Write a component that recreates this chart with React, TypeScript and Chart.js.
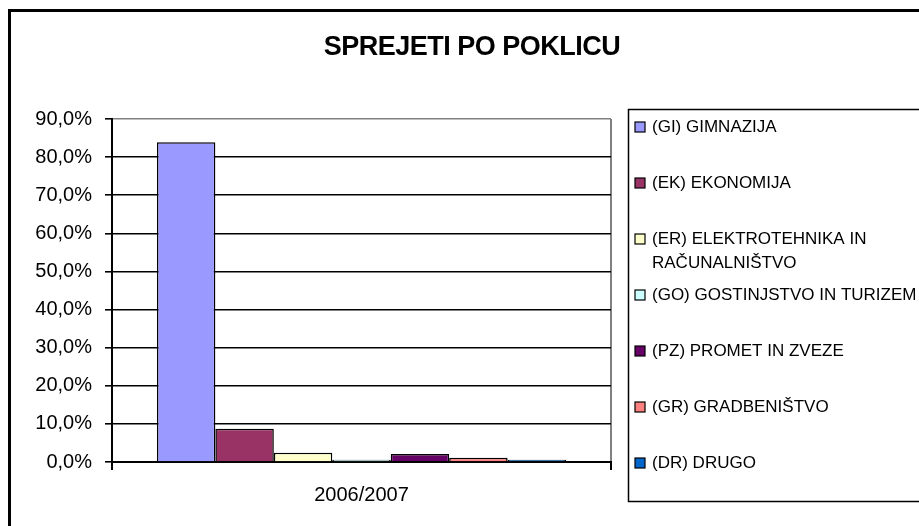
import React, { useEffect, useRef } from "react";
import { Chart, registerables } from "chart.js";

Chart.register(...registerables);

const CATEGORIES = ["2006/2007"];
const SERIES_LABELS = [
  "(GI) GIMNAZIJA",
  "(EK) EKONOMIJA",
  "(ER) ELEKTROTEHNIKA IN\nRAČUNALNIŠTVO",
  "(GO) GOSTINJSTVO IN TURIZEM",
  "(PZ) PROMET IN ZVEZE",
  "(GR) GRADBENIŠTVO",
  "(DR) DRUGO",
];
const SERIES_VALUES = [83.9, 8.7, 2.4, 0.6, 2.1, 1.1, 0.6];
const SERIES_COLORS = ["#9999FF", "#993366", "#FFFFCC", "#CCFFFF", "#660066", "#FF8080", "#0066CC"];
const TITLE = "SPREJETI PO POKLICU";
const Y_MIN = 0;
const Y_MAX = 90;
const Y_STEP = 10;

const FONT = "'Liberation Sans', Arial, sans-serif";

const decorPlugin = {
  id: "decor",
  beforeDraw(chart: any) {
    const ctx = chart.ctx;
    const W = chart.width;
    const H = chart.height;
    ctx.save();
    ctx.fillStyle = "#fff";
    ctx.fillRect(0, 0, W, H);
    // outer frame (left and top visible)
    ctx.strokeStyle = "#000";
    ctx.lineWidth = 3;
    ctx.beginPath();
    ctx.moveTo(9.5, H + 5);
    ctx.lineTo(9.5, 10.5);
    ctx.lineTo(W + 5, 10.5);
    ctx.stroke();
    // title
    ctx.fillStyle = "#000";
    ctx.font = `bold 27px ${FONT}`;
    try {
      (ctx as any).letterSpacing = "-0.5px";
    } catch (e) {}
    ctx.textAlign = "center";
    ctx.textBaseline = "middle";
    ctx.fillText(TITLE, 472, 48);
    try {
      (ctx as any).letterSpacing = "0px";
    } catch (e) {}
    ctx.restore();
  },
  afterDraw(chart: any) {
    const ctx = chart.ctx;
    const W = chart.width;
    const area = chart.chartArea;
    ctx.save();
    // legend box
    const boxL = area.right + 17;
    const boxT = area.top - 10;
    const boxB = area.bottom + 39;
    ctx.strokeStyle = "#000";
    ctx.lineWidth = 1.5;
    ctx.strokeRect(boxL + 0.5, boxT + 0.5, W + 10 - boxL, boxB - boxT);
    ctx.font = `17px ${FONT}`;
    ctx.textAlign = "left";
    ctx.textBaseline = "middle";
    chart.data.datasets.forEach((ds: any, i: number) => {
      const y = boxT + 18 + 56 * i;
      ctx.fillStyle = ds.backgroundColor;
      ctx.fillRect(boxL + 7, y - 5, 10, 10);
      ctx.strokeStyle = "#000";
      ctx.lineWidth = 1.2;
      ctx.strokeRect(boxL + 7, y - 5, 10, 10);
      ctx.fillStyle = "#000";
      const lines = String(ds.label).split("\n");
      lines.forEach((ln, k) => ctx.fillText(ln, boxL + 24, y + 24 * k));
    });
    ctx.restore();
  },
};

export default function App() {
  const ref = useRef<HTMLCanvasElement>(null);
  useEffect(() => {
    if (!ref.current) return;
    const chart = new Chart(ref.current, {
      type: "bar",
      data: {
        labels: CATEGORIES,
        datasets: SERIES_LABELS.map((label, i) => ({
          label,
          data: [SERIES_VALUES[i]],
          backgroundColor: SERIES_COLORS[i],
          borderColor: "#000",
          borderWidth: 1.5,
          categoryPercentage: 0.82,
          barPercentage: 1,
        })),
      },
      options: {
        responsive: false,
        animation: false,
        layout: { padding: { top: 119, right: 308, bottom: 0, left: 0 } },
        plugins: {
          legend: { display: false },
          title: { display: false },
          tooltip: { enabled: false },
        },
        scales: {
          x: {
            afterFit: (s: any) => {
              s.height = 64;
            },
            grid: {
              color: (c: any) => (c.type === "tick" && c.index === 0 ? "#000" : "#808080"),
              tickColor: "#000",
              lineWidth: 2,
              tickLength: 8,
            },
            border: { color: "#000", width: 2 },
            ticks: { color: "#000", font: { family: FONT, size: 20 }, padding: 13 },
          },
          y: {
            min: Y_MIN,
            max: Y_MAX,
            afterFit: (s: any) => {
              s.width = 112;
            },
            grid: {
              color: (c: any) => (c.tick && c.tick.value === Y_MAX ? "#808080" : "#000"),
              tickColor: "#000",
              lineWidth: 1.6,
              tickLength: 7,
            },
            border: { color: "#000", width: 2 },
            ticks: {
              stepSize: Y_STEP,
              color: "#000",
              font: { family: FONT, size: 20 },
              padding: 13,
              callback: (v: any) => Number(v).toFixed(1).replace(".", ",") + "%",
            },
          },
        },
      },
      plugins: [decorPlugin],
    });
    return () => chart.destroy();
  }, []);
  return (
    <div style={{ position: "absolute", left: 0, top: 0, width: 919, height: 526, overflow: "hidden" }}>
      <canvas ref={ref} width={919} height={526} style={{ display: "block" }} />
    </div>
  );
}
